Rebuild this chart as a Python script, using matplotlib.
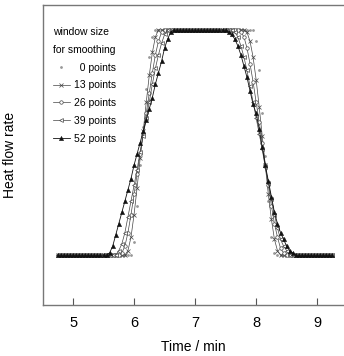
import matplotlib.pyplot as plt
import numpy as np

# time grid, 0.05 min steps from 4.75 to 9.25 min
time_min = np.round(np.arange(4.75, 9.2501, 0.05), 2)

# heat flow (relative) for each smoothing window
raw_0 = ([0.0] * 24
         + [0.0, 0.06, 0.22, 0.40, 0.57, 0.74, 0.88, 0.97]
         + [1.0] * 32
         + [1.0, 0.95, 0.82, 0.63, 0.44, 0.24, 0.08, 0.01]
         + [0.0] * 19)
smooth_13 = ([0.0] * 22
             + [0.0, 0.02, 0.08, 0.18, 0.30, 0.43, 0.55, 0.68, 0.80, 0.90, 0.97]
             + [1.0] * 29
             + [0.99, 0.95, 0.88, 0.78, 0.66, 0.53, 0.40, 0.27, 0.16, 0.07, 0.02]
             + [0.0] * 18)
smooth_26 = ([0.0] * 21
             + [0.01, 0.04, 0.10, 0.18, 0.27, 0.36, 0.45, 0.54, 0.63, 0.72, 0.81,
                0.89, 0.95, 0.99]
             + [1.0] * 25
             + [0.99, 0.97, 0.92, 0.85, 0.77, 0.68, 0.59, 0.50, 0.40, 0.31, 0.22,
                0.14, 0.08, 0.03, 0.01]
             + [0.0] * 16)
smooth_39 = ([0.0] * 20
             + [0.02, 0.05, 0.10, 0.17, 0.24, 0.31, 0.38, 0.46, 0.53, 0.61, 0.68,
                0.76, 0.83, 0.89, 0.94, 0.98]
             + [1.0] * 22
             + [0.99, 0.97, 0.93, 0.88, 0.82, 0.75, 0.68, 0.61, 0.54, 0.47, 0.39,
                0.32, 0.25, 0.18, 0.12, 0.07, 0.04, 0.02]
             + [0.0] * 15)
smooth_52 = ([0.0] * 17
             + [0.01, 0.04, 0.09, 0.14, 0.19, 0.24, 0.29, 0.34, 0.40, 0.45, 0.50,
                0.55, 0.60, 0.65, 0.70, 0.76, 0.81, 0.86, 0.92, 0.96, 0.99]
             + [1.0] * 18
             + [0.99, 0.98, 0.96, 0.93, 0.89, 0.84, 0.79, 0.73, 0.67, 0.63, 0.56,
                0.48, 0.40, 0.33, 0.26, 0.19, 0.14, 0.10, 0.07, 0.04, 0.02, 0.01]
             + [0.0] * 13)

labels = ['  0 points', '13 points', '26 points', '39 points', '52 points']
xticks = [5, 6, 7, 8, 9]

plt.rcParams['font.family'] = ['Liberation Sans', 'DejaVu Sans']

fig = plt.figure(figsize=(3.44, 3.56), dpi=100)
ax = fig.add_axes([0.125, 0.143, 0.875, 0.843])

ax.plot(time_min, raw_0, ls='none', marker='.', ms=2.0, color='#999999', label=labels[0])
ax.plot(time_min, smooth_13, color='#444444', lw=0.5, marker='x', ms=2.5, mew=0.5,
        label=labels[1])
ax.plot(time_min, smooth_26, color='#444444', lw=0.5, marker='o', ms=2.5, mew=0.5,
        mfc='white', label=labels[2])
ax.plot(time_min, smooth_39, color='#444444', lw=0.5, marker='<', ms=2.8, mew=0.5,
        mfc='white', label=labels[3])
ax.plot(time_min, smooth_52, color='#111111', lw=0.6, marker='^', ms=3, mew=0.4,
        label=labels[4])

ax.set_xlim(4.508, 9.44)
ax.set_ylim(-0.222, 1.111)
ax.set_xticks(xticks)
ax.set_yticks([])
ax.tick_params(axis='x', direction='in', length=5, width=0.8, color='#555555',
               labelsize=10.5, pad=8)
for side in ['left', 'top', 'bottom']:
    ax.spines[side].set_color('#777777')
    ax.spines[side].set_linewidth(1.0)
ax.spines['right'].set_visible(False)

ax.set_xlabel('Time / min', fontsize=10, labelpad=7)
ax.set_ylabel('Heat flow rate', fontsize=10)
ax.yaxis.set_label_coords(-0.085, 0.5)

leg = ax.legend(title='window size\nfor smoothing', loc='upper left',
                bbox_to_anchor=(0.033, 0.925), frameon=False, alignment='left',
                prop={'family': ['Liberation Sans Narrow', 'Liberation Sans'], 'size': 7.5},
                title_fontproperties={'family': ['Liberation Sans Narrow', 'Liberation Sans'],
                                      'size': 7.5},
                handlelength=1.6, handletextpad=0.4, labelspacing=0.75,
                borderpad=0, borderaxespad=0)
leg.get_title().set_linespacing(1.9)

fig.savefig('out.png', dpi=100)
